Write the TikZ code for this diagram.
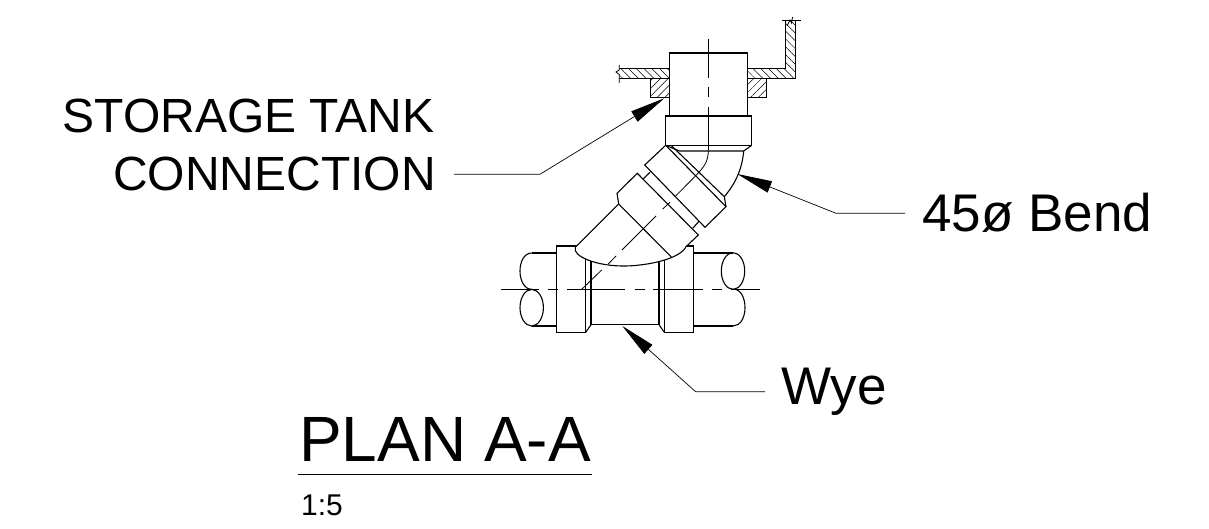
\documentclass[tikz,border=0pt]{standalone}
\usepackage{fontspec}
\setmainfont{Liberation Sans}
\usetikzlibrary{arrows.meta}
\usetikzlibrary{patterns.meta}
\tikzset{
  outline/.style={draw=black, line width=1.1pt, fill=white},
  part/.style={draw=black, line width=1.1pt},
  centre/.style={draw=black, line width=0.8pt},
  hatchback/.style={pattern={Lines[angle=-45,distance=5.5pt,line width=0.5pt]}},
  hatchfwd/.style={pattern={Lines[angle=45,distance=5.5pt,line width=0.5pt]}},
  leader/.style={draw=black, line width=0.7pt, -{Triangle[length=35pt,width=12pt]}},
  calltext/.style={font=\fontsize{48}{50}\selectfont, text depth=0pt, inner ysep=0pt},
  bigcalltext/.style={font=\fontsize{53}{55}\selectfont, inner ysep=0pt},
  titletext/.style={font=\fontsize{64}{66}\selectfont, inner sep=0pt},
  scaletext/.style={font=\fontsize{30}{32}\selectfont, inner sep=0pt}
}
\begin{document}
\begin{tikzpicture}[x=1pt, y=-1pt]
    \useasboundingbox (0,0) rectangle (1209,529);

    % Tank wall and pads
    \draw[part, hatchback] (619.3,68.7) -- (669.3,68.7) -- (669.3,78.3) -- (619.3,78.3);
    \draw[part, hatchback] (747.7,68.7) -- (785.7,68.7) -- (785.7,20.7) -- (795.7,20.7) -- (795.7,78.3) -- (747.7,78.3) -- cycle;
    \draw[part, hatchfwd] (650.3,78.3) rectangle (669.3,97.7);
    \draw[part, hatchfwd] (747.7,78.3) rectangle (766.7,97.7);
    \draw[centre] (619.3,65) -- (619.3,70) -- (616,72) -- (619.3,74.5) -- (619.3,83);
    \draw[centre] (781.7,20.7) -- (801,20.7);
    \draw[centre] (787,26) -- (790,20) -- (791.5,23) -- (792.5,17);

    % Tank connection
    \draw[outline] (669.3,116) -- (669.3,53) -- (747.7,53) -- (747.7,116);
    \draw[outline] (665.7,116) rectangle (751.7,145.3);
    \draw[part] (665.7,145.3) -- (679.3,151) -- (743.7,151) -- (751.7,145.3);

    % Run of pipe
    \draw[part] (531.7,253) .. controls (524,253) and (520,262) .. (520,271) .. controls (520,280) and (524,289.3) .. (531.7,289.3);
    \draw[part] (531.7,307.7) ellipse (11.7 and 18.3);
    \draw[part] (531.7,253) -- (556.3,253);
    \draw[part] (531.7,326) -- (556.3,326);
    \draw[part] (733,271) ellipse (11.7 and 18.3);
    \draw[part] (693.3,253) -- (733,253);
    \draw[part] (693.3,326) -- (733,326);
    \draw[part] (736,289.3) .. controls (741,291) and (745,298) .. (745,307.7) .. controls (745,318) and (740,326) .. (733,326);

    % Wye
    \draw[part] (585.7,255) -- (585.7,332.3);
    \draw[part] (591,258) -- (591,324.7) -- (659,324.7) -- (659,258);
    \draw[part] (664.3,250) -- (664.3,332.3);
    \draw[part] (585.7,332.3) -- (591,324.7);
    \draw[part] (659,324.7) -- (664.3,332.3);
    \draw[outline] (556.3,246) rectangle (585.7,332.3);
    \draw[outline] (664.3,246) rectangle (693.3,332.3);
    \foreach \xa/\xb in {500.7/539, 548.3/558.3, 567.3/625, 635/645, 653.3/703.3, 711.7/721.7, 730.7/759.7}
      \draw[centre] (\xa,289.3) -- (\xb,289.3);

    % Bend
    \draw[outline] (618.7,204) -- (575.3,247.3) .. controls (572,256) and (596,266.5) .. (626,266) .. controls (648,265.5) and (680,259) .. (686,246.7) -- (698.3,235) -- (637.3,173.3) -- (617,193.3) -- cycle;
    \draw[part] (618.7,204) -- (671.3,257);
    \draw[part] (642.7,179.3) -- (650,172.3);
    \draw[part] (692.7,228.3) -- (699.3,221);
    \draw[outline] (665.7,145.3) -- (726,206.7) -- (705,227.3) -- (644.7,165) -- cycle;
    \draw[part] (671.7,146) -- (724.3,196.7) -- (726,206.7);
    \draw[part] (743.7,151) .. controls (742,170) and (735,184) .. (724.3,196.7);

    % Centre lines
    \foreach \ya/\yb in {39/78, 87/97, 107/150}
      \draw[centre] (708.3,\ya) -- (708.3,\yb);
    \draw[centre] (708.3,150) .. controls (708.3,162) and (704,167) .. (695.7,175.7) -- (675,196.7);
    \draw[centre] (670,202.3) -- (662.7,209);
    \draw[centre] (656,216) -- (622,250);
    \draw[centre] (616,256) -- (608.3,264);
    \draw[centre] (601.7,270) -- (581.7,289.3);

    % Define nodes
    \node[calltext, inner xsep=18pt, anchor=base east] (connection) at (454,191) {CONNECTION};
    \node[calltext, inner xsep=0pt, anchor=base east] (storage) at (434.5,133) {STORAGE TANK};
    \node[bigcalltext, inner xsep=17pt, anchor=base west] (bend) at (905,232) {45ø Bend};
    \node[bigcalltext, text depth=11pt, inner xsep=16pt, anchor=base west] (wye) at (765,404.5) {Wye};
    \node[titletext, anchor=base west] (plan) at (299,461) {PLAN A-A};
    \node[scaletext, anchor=base west] (ratio) at (301,515) {1:5};
    \coordinate (ruleleft) at (297.7,474);
    \coordinate (ruleright) at (591.7,474);
    \coordinate (kinkstorage) at (540,0 |- connection.east);
    \coordinate (tipstorage) at (664.3,98.3);
    \coordinate (kinkbend) at (836,0 |- bend.west);
    \coordinate (tipbend) at (737.3,174);
    \coordinate (kinkwye) at (695.7,0 |- wye.west);
    \coordinate (tipwye) at (622.3,326);

    % Connect the nodes
    \draw[leader] (connection.east) -- (kinkstorage) -- (tipstorage);
    \draw[leader] (bend.west) -- (kinkbend) -- (tipbend);
    \draw[leader] (wye.west) -- (kinkwye) -- (tipwye);
    \draw[draw=black, line width=0.8pt] (ruleleft) -- (ruleright);

\end{tikzpicture}
\end{document}
